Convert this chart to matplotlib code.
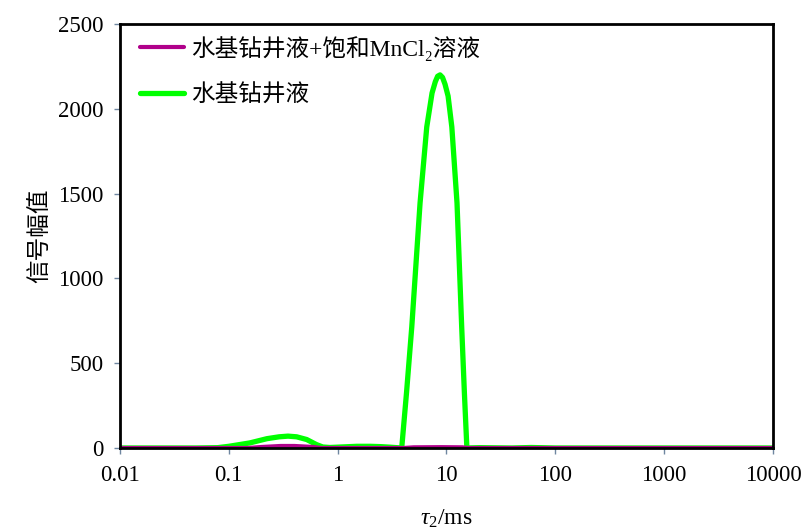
import matplotlib
matplotlib.use("Agg")
import matplotlib.pyplot as plt
from matplotlib.ticker import FixedLocator, FixedFormatter, NullLocator

plt.rcParams['font.family'] = ['Liberation Serif', 'Noto Sans CJK SC', 'DejaVu Sans']
plt.rcParams['mathtext.fontset'] = 'custom'
plt.rcParams['mathtext.rm'] = 'Liberation Serif'
plt.rcParams['mathtext.it'] = 'Liberation Serif:italic'

# T2 relaxation time (ms) and signal amplitude
tau_water = [0.01, 0.05, 0.079, 0.1, 0.156, 0.224, 0.29, 0.35, 0.42, 0.52, 0.64, 0.73, 0.85,
             1.0, 1.5, 2.0, 2.5, 3.0, 3.5, 3.88, 4.3, 4.8, 5.72, 6.59, 7.37, 7.9, 8.3, 8.73,
             9.2, 9.7, 10.35, 11.2, 12.5, 13.8, 14.6, 15.4, 20, 40, 60, 100, 1000, 10000]
amp_water = [0, 0, 2, 10, 30, 55, 66, 70, 66, 50, 20, 6, 3,
             5, 10, 10, 8, 5, 2, 0, 330, 714, 1445, 1893, 2093, 2160, 2192, 2200,
             2185, 2145, 2075, 1893, 1445, 714, 330, 0, 2, 0, 3, 0, 0, 0]

tau_mncl = [0.01, 0.15, 0.2, 0.3, 0.4, 0.6, 0.7, 1.0, 4.0, 5, 9, 14, 16, 100, 10000]
amp_mncl = [0, 0, 6, 12, 12, 6, 0, 0, 0, 4, 5, 4, 0, 0, 0]

label_mncl = '水基钻井液+饱和MnCl\u2082溶液'
label_water = '水基钻井液'

xticks = [0.01, 0.1, 1, 10, 100, 1000, 10000]
xtick_labels = ['0.01', '0.1', '1', '10', '100', '1000', '10000']
yticks = [0, 500, 1000, 1500, 2000, 2500]

fig = plt.figure(figsize=(8.03, 5.30), dpi=100)
ax = fig.add_axes([0.1494, 0.1547, 0.8132, 0.8000])

ax.plot(tau_water, amp_water, color='#00ff00', lw=3.8, label=label_water,
        solid_capstyle='round', solid_joinstyle='round')
ax.plot(tau_mncl, amp_mncl, color='#b0008a', lw=3.0, label=label_mncl,
        solid_capstyle='round', solid_joinstyle='round')

ax.set_xscale('log')
ax.set_xlim(0.01, 10000)
ax.set_ylim(0, 2500)
ax.xaxis.set_major_locator(FixedLocator(xticks))
ax.xaxis.set_major_formatter(FixedFormatter(xtick_labels))
ax.xaxis.set_minor_locator(NullLocator())
ax.set_yticks(yticks)

for s in ax.spines.values():
    s.set_linewidth(2)
    s.set_color('black')
ax.tick_params(direction='out', length=4, width=1, color='#6f86a0', labelsize=16.5, pad=8)

ax.set_xlabel(r'$\tau_2$/ms', fontsize=17, labelpad=16)
ax.set_ylabel('信号幅值', fontsize=17, labelpad=4)

handles, labels = ax.get_legend_handles_labels()
ax.legend(handles[::-1], labels[::-1], loc='upper left', frameon=False, fontsize=17,
          handlelength=1.9, borderaxespad=0.2, borderpad=0.3, labelspacing=1.0,
          handletextpad=0.3, bbox_to_anchor=(0.012, 1.0))

fig.savefig('out.png', dpi=100)
